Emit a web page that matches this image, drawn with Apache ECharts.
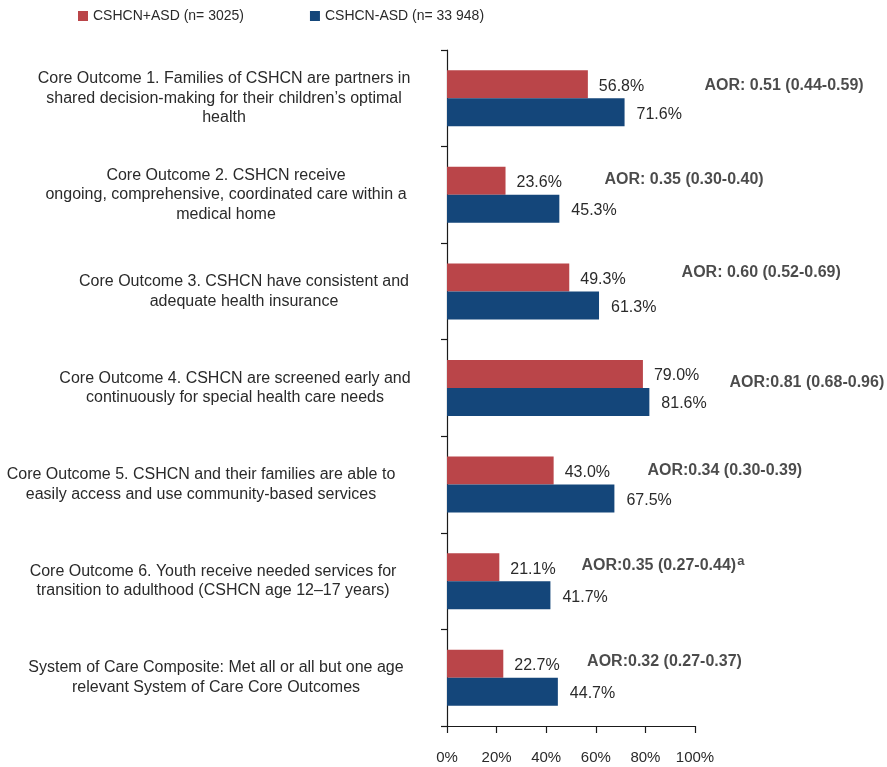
<!DOCTYPE html>
<html>
<head>
<meta charset="utf-8">
<script src="https://cdn.jsdelivr.net/npm/echarts@6/dist/echarts.min.js"></script>
<style>html,body{margin:0;padding:0;background:#fff}#c{width:887px;height:767px}</style>
</head>
<body>
<div id="c"></div>
<script>
const categories = [
  "Core Outcome 1. Families of CSHCN are partners in\nshared decision-making for their children\u2019s optimal\nhealth",
  "Core Outcome 2. CSHCN receive\nongoing, comprehensive, coordinated care within a\nmedical home",
  "Core Outcome 3. CSHCN have consistent and\nadequate health insurance",
  "Core Outcome 4. CSHCN are screened early and\ncontinuously for special health care needs",
  "Core Outcome 5. CSHCN and their families are able to\neasily access and use community-based services",
  "Core Outcome 6. Youth receive needed services for\ntransition to adulthood (CSHCN age 12\u201317 years)",
  "System of Care Composite: Met all or all but one age\nrelevant System of Care Core Outcomes"
];
const seriesNames = ["CSHCN+ASD (n= 3025)", "CSHCN-ASD (n= 33 948)"];
const withASD = [56.8, 23.6, 49.3, 79.0, 43.0, 21.1, 22.7];
const withoutASD = [71.6, 45.3, 61.3, 81.6, 67.5, 41.7, 44.7];
const aorText = [
  "AOR: 0.51 (0.44-0.59)",
  "AOR: 0.35 (0.30-0.40)",
  "AOR: 0.60 (0.52-0.69)",
  "AOR:0.81 (0.68-0.96)",
  "AOR:0.34 (0.30-0.39)",
  "AOR:0.35 (0.27-0.44)",
  "AOR:0.32 (0.27-0.37)"
];
const aorSup = ["", "", "", "", "", "a", ""];
const xTicks = [0, 20, 40, 60, 80, 100];

// layout only: annotation anchors, vertical nudges, horizontal label shifts
const aorAnchorX = [103.6, 63.3, 94.4, 113.7, 80.6, 54.0, 56.3];
const aorDy = [-13, -15, -19, -5, -14, -16, -16];
const catShift = [0, 2, 20, 11, -23, -11, -8];

const RED = '#BA4549';
const BLUE = '#14467A';
const TXT = '#2a2a2a';
const FONT = '"Liberation Sans", Arial, Helvetica, sans-serif';

const catRich = {};
catShift.forEach((s, i) => {
  catRich['c' + i] = {
    fontSize: 16, color: TXT, fontFamily: FONT, lineHeight: 19.5,
    padding: s >= 0 ? [0, 0, 0, 2 * s] : [0, -2 * s, 0, 0]
  };
});

const chart = echarts.init(document.getElementById('c'), null, {renderer: 'canvas'});
chart.setOption({
  animation: false,
  textStyle: {fontFamily: FONT},
  legend: {
    left: 78, top: 9, padding: 0,
    icon: 'rect', itemWidth: 10, itemHeight: 10, itemGap: 66,
    textStyle: {fontSize: 14, color: TXT, fontFamily: FONT},
    data: seriesNames
  },
  grid: {left: 447, right: 192, top: 50, bottom: 41, containLabel: false, outerBoundsMode: 'none'},
  xAxis: {
    type: 'value', min: 0, max: 100, interval: 20,
    axisLine: {show: true, lineStyle: {color: '#1a1a1a', width: 1.2}},
    axisTick: {show: true, length: 7, lineStyle: {color: '#1a1a1a', width: 1.2}},
    splitLine: {show: false},
    axisLabel: {
      fontSize: 15, color: TXT, fontFamily: FONT, margin: 24,
      formatter: v => (xTicks.indexOf(v) >= 0 ? v + '%' : '')
    }
  },
  yAxis: {
    type: 'category', inverse: true, data: categories,
    axisLine: {show: true, lineStyle: {color: '#1a1a1a', width: 1.2}},
    axisTick: {show: true, length: 6, lineStyle: {color: '#1a1a1a', width: 1.2}},
    axisLabel: {
      fontSize: 16, color: TXT, fontFamily: FONT, align: 'center',
      margin: 223, lineHeight: 19.5,
      formatter: (v, i) => '{c' + i + '|' + v.split('\n').join('}\n{c' + i + '|') + '}',
      rich: catRich
    }
  },
  series: [
    {
      name: seriesNames[0], type: 'bar', data: withASD,
      barWidth: 28, barGap: '0%',
      itemStyle: {color: RED},
      label: {
        show: true, position: 'right', distance: 11,
        fontSize: 16, color: TXT, fontFamily: FONT, offset: [0, 2],
        formatter: p => p.value.toFixed(1) + '%'
      }
    },
    {
      name: seriesNames[1], type: 'bar', data: withoutASD,
      barWidth: 28,
      itemStyle: {color: BLUE},
      label: {
        show: true, position: 'right', distance: 12,
        fontSize: 16, color: TXT, fontFamily: FONT, offset: [0, 2],
        formatter: p => p.value.toFixed(1) + '%'
      }
    },
    {
      name: 'AOR', type: 'scatter', clip: false, silent: true,
      symbolSize: 1, itemStyle: {color: 'rgba(0,0,0,0)'},
      data: categories.map((c, i) => ({
        value: [aorAnchorX[i], i],
        label: {offset: [0, aorDy[i]]}
      })),
      label: {
        show: true, position: 'right', distance: 0,
        formatter: p => {
          const i = p.dataIndex;
          return '{b|' + aorText[i] + '}' + (aorSup[i] ? '{s|' + aorSup[i] + '}' : '');
        },
        rich: {
          b: {fontSize: 16, fontWeight: 'bold', color: '#1e1e1e', fontFamily: FONT, lineHeight: 20},
          s: {fontSize: 13, fontWeight: 'bold', color: '#1e1e1e', fontFamily: FONT, verticalAlign: 'top', lineHeight: 20, padding: [0, 0, 8, 1]}
        }
      }
    }
  ]
});
</script>
</body>
</html>
